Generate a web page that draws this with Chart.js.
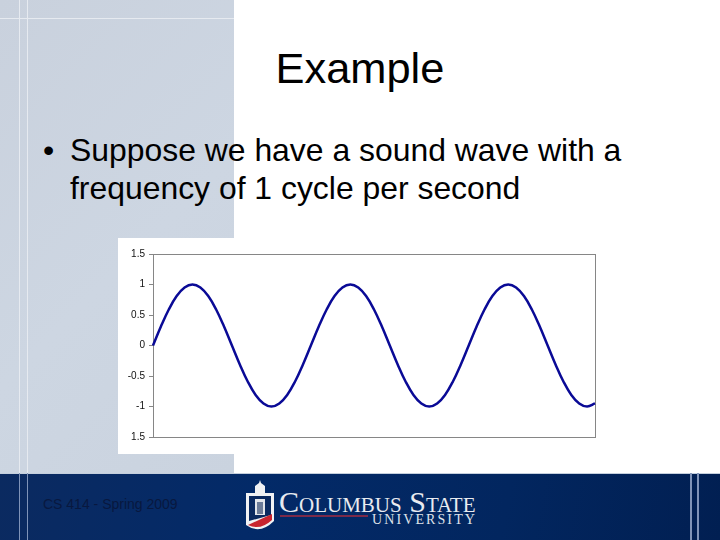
<!DOCTYPE html>
<html>
<head>
<meta charset="utf-8">
<script src="https://cdn.jsdelivr.net/npm/chart.js@4"></script>
<style>
html, body { margin: 0; padding: 0; background: #fff; }
#slide { position: relative; width: 720px; height: 540px; overflow: hidden; background: #fff; font-family: "Liberation Sans", Arial, sans-serif; }
.abs { position: absolute; }
#painel { left: 0; top: 0; width: 234px; height: 473px; background: linear-gradient(135deg, #c9d1dd 0%, #cdd6e2 55%, #cad3df 100%); }
#rodape { left: 0; top: 473px; width: 720px; height: 67px; background: linear-gradient(100deg, #0b2a60 0%, #032a68 35%, #02265f 70%, #011f52 100%); border-top: 1px solid #c4cfdd; box-sizing: border-box; }
.fio { background: #e6eaf0; }
.fio2 { background: #7f93b8; }
#titulo { left: 0; top: 43px; width: 720px; text-align: center; font-size: 43.4px; line-height: 50px; color: #000; }
#corpo { left: 70px; top: 131px; font-size: 31.9px; line-height: 38px; color: #000; white-space: nowrap; }
#bala { left: 43px; top: 131px; font-size: 32px; line-height: 38px; color: #000; }
#grafico { left: 118px; top: 238px; width: 480px; height: 216px; background: #fff; }
#rodapeTexto { left: 43px; top: 496px; font-size: 14px; line-height: 17px; color: #08183f; white-space: nowrap; }
#logo1 { left: 279px; top: 486px; font-family: "Liberation Serif", serif; font-size: 30px; line-height: 32px; color: #e8ebf0; white-space: nowrap; font-variant: small-caps; }
#logo2 { left: 372px; top: 512px; font-family: "Liberation Serif", serif; font-size: 14px; line-height: 16px; letter-spacing: 2.1px; color: #dfe3ea; white-space: nowrap; }
#logoLinha { left: 280px; top: 515px; width: 88px; height: 2px; background: #7b2a4a; }
</style>
</head>
<body>
<div id="slide">
  <div class="abs" id="painel"></div>
  <div class="abs fio" style="left:0;top:18px;width:234px;height:1px"></div>
  <div class="abs fio" style="left:19px;top:0;width:1px;height:473px"></div>
  <div class="abs fio" style="left:27px;top:0;width:1px;height:473px"></div>

  <div class="abs" id="rodape"></div>
  <div class="abs fio2" style="left:19px;top:473px;width:1px;height:67px"></div>
  <div class="abs fio2" style="left:27px;top:473px;width:1px;height:67px"></div>
  <div class="abs fio2" style="left:690px;top:473px;width:2px;height:67px"></div>
  <div class="abs fio2" style="left:697px;top:473px;width:2px;height:67px"></div>

  <div class="abs" id="titulo">Example</div>
  <div class="abs" id="bala">•</div>
  <div class="abs" id="corpo">Suppose we have a sound wave with a<br>frequency of 1 cycle per second</div>

  <div class="abs" id="grafico"><canvas id="chartOnda" width="480" height="216"></canvas></div>

  <div class="abs" id="rodapeTexto">CS 414 - Spring 2009</div>

  <svg class="abs" style="left:244px;top:479px" width="32" height="54" viewBox="0 0 32 54">
    <path d="M2 14 H30 V42 Q16 56 2 46 Z" fill="#f1f2f4"/>
    <path d="M11 14 V7 L15 4 L16 1 L17 4 L21 7 V14 Z" fill="#f1f2f4"/>
    <path d="M5 17 H27 V36 L5 42 Z" fill="#0b2a60"/>
    <path d="M11 20 H21 V36 H11 Z" fill="#e4e6ea"/>
    <path d="M13 23 H19 V35 H13 Z" fill="#6d7c98"/>
    <path d="M4 46 L28 35 V41 Q16 52 4 46 Z" fill="#c8242f"/>
  </svg>
  <div class="abs" id="logo1">Columbus State</div>
  <div class="abs" id="logoLinha"></div>
  <div class="abs" id="logo2">UNIVERSITY</div>
</div>

<script>
const tempos = [
    '0', '0.05', '0.1', '0.15', '0.2', '0.25', '0.3', '0.35', '0.4', '0.45',
    '0.5', '0.55', '0.6', '0.65', '0.7', '0.75', '0.8', '0.85', '0.9', '0.95',
    '1', '1.05', '1.1', '1.15', '1.2', '1.25', '1.3', '1.35', '1.4', '1.45',
    '1.5', '1.55', '1.6', '1.65', '1.7', '1.75', '1.8', '1.85', '1.9', '1.95',
    '2', '2.05', '2.1', '2.15', '2.2', '2.25', '2.3', '2.35', '2.4', '2.45',
    '2.5', '2.55', '2.6', '2.65', '2.7', '2.75', '2.8'
];
const amplitude = [
    0, 0.31, 0.59, 0.81, 0.95, 1, 0.95, 0.81, 0.59, 0.31,
    0, -0.31, -0.59, -0.81, -0.95, -1, -0.95, -0.81, -0.59, -0.31,
    0, 0.31, 0.59, 0.81, 0.95, 1, 0.95, 0.81, 0.59, 0.31,
    0, -0.31, -0.59, -0.81, -0.95, -1, -0.95, -0.81, -0.59, -0.31,
    0, 0.31, 0.59, 0.81, 0.95, 1, 0.95, 0.81, 0.59, 0.31,
    0, -0.31, -0.59, -0.81, -0.95, -1, -0.95
];
const yMin = -1.5;
const yMax = 1.5;
const yPasso = 0.5;
// O rotulo de baixo aparece sem o sinal no original
const yRotulos = ['1.5', '1', '0.5', '0', '-0.5', '-1', '1.5'];

const corEixo = '#868686';

// Moldura de cima e da direita da area do grafico
const moldura = {
    id: 'moldura',
    beforeDatasetsDraw(chart) {
        const { ctx, chartArea } = chart;
        ctx.save();
        ctx.strokeStyle = corEixo;
        ctx.lineWidth = 1;
        ctx.strokeRect(chartArea.left + 0.5, chartArea.top + 0.5, chartArea.width, chartArea.height);
        ctx.restore();
    }
};

new Chart(document.getElementById('chartOnda').getContext('2d'), {
    type: 'line',
    data: {
        labels: tempos,
        datasets: [{
            data: amplitude,
            borderColor: '#0a0a96',
            borderWidth: 2.5,
            pointRadius: 0,
            tension: 0.4,
            fill: false,
            clip: false
        }]
    },
    options: {
        responsive: false,
        animation: { duration: 0 },
        layout: { padding: { top: 16, right: 3, bottom: 9, left: 0 } },
        plugins: { legend: { display: false }, tooltip: { enabled: false } },
        scales: {
            x: {
                offset: false,
                grid: { display: false },
                ticks: { display: false },
                border: { display: false }
            },
            y: {
                min: yMin,
                max: yMax,
                reverse: false,
                ticks: {
                    stepSize: yPasso,
                    color: '#111',
                    padding: 4,
                    font: { family: '"Liberation Sans", Arial, sans-serif', size: 10 },
                    // ticks vem de baixo para cima, os rotulos de cima para baixo
                    callback: (valor, i, ticks) => yRotulos[ticks.length - 1 - i]
                },
                grid: { drawOnChartArea: false, color: corEixo, tickLength: 4 },
                border: { display: false },
                afterFit(escala) { escala.width = 35; }
            }
        }
    },
    plugins: [moldura]
});
</script>
</body>
</html>
